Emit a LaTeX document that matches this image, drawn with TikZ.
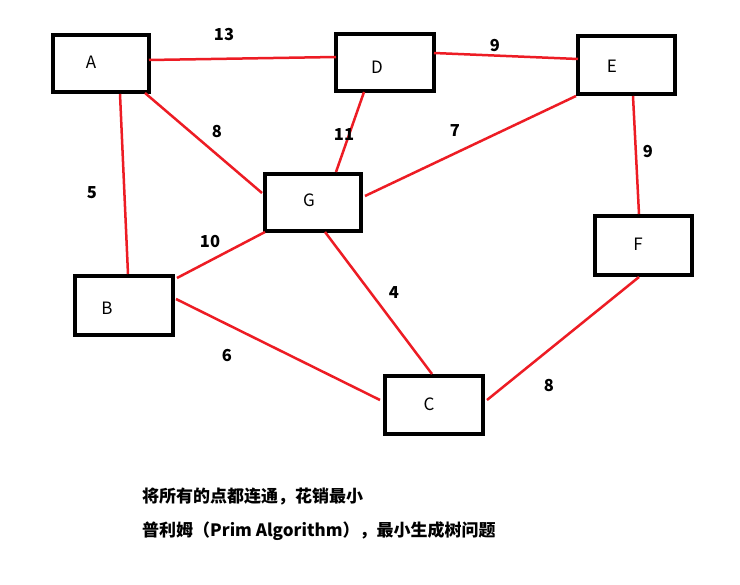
\documentclass[tikz,border=0pt]{standalone}
\usepackage{fontspec}
\setmainfont{Noto Sans CJK SC}
\usetikzlibrary{calc}
\definecolor{paintred}{RGB}{237,28,36}
\tikzset{
  vbox/.style={draw=black, line width=4pt, inner sep=0pt},
  letter/.style={font=\fontsize{17}{20}\selectfont, inner sep=0pt},
  weight/.style={font=\bfseries\fontsize{16.5}{19}\selectfont, inner sep=0pt},
  edge/.style={draw=paintred, line width=2.5pt},
  caption/.style={font=\bfseries\fontsize{17}{20}\selectfont, anchor=west, inner sep=0pt}
}
\begin{document}
\begin{tikzpicture}[x=1pt,y=-1pt]
\useasboundingbox (0,0) rectangle (740,585);
\fill[white] (0,0) rectangle (740,585);
% boxes
\node[vbox, minimum width=96pt, minimum height=57pt] (A) at (101,63.5) {};
\node[vbox, minimum width=98pt, minimum height=57pt] (D) at (385,62.5) {};
\node[vbox, minimum width=97pt, minimum height=58pt] (E) at (626.5,65) {};
\node[vbox, minimum width=96pt, minimum height=57pt] (G) at (313,202.5) {};
\node[vbox, minimum width=97pt, minimum height=59pt] (F) at (643.5,245.5) {};
\node[vbox, minimum width=98pt, minimum height=59pt] (B) at (124,305.5) {};
\node[vbox, minimum width=98pt, minimum height=58pt] (C) at (434,405) {};
% letters
\node[letter] (Al) at (91,62) {A};
\node[letter] (Dl) at (377,67) {D};
\node[letter] (El) at (612,66) {E};
\node[letter] (Gl) at (309,200) {G};
\node[letter] (Fl) at (638,244) {F};
\node[letter] (Bl) at (107,308) {B};
\node[letter] (Cl) at (429,404) {C};
% edges
\draw[edge] ($(A.north east)+(-2,27)$) -- ($(D.north west)+(2,25)$);
\draw[edge] ($(D.north east)+(-2,21)$) -- ($(E.north west)+(2,25)$);
\draw[edge] ($(A.south east)+(-6,-1)$) -- ($(G.north west)+(-1,21)$);
\draw[edge] ($(A.south west)+(69,0)$) -- ($(B.north west)+(55,0)$);
\draw[edge] ($(D.south west)+(30,-1)$) -- ($(G.north west)+(73,0)$);
\draw[edge] ($(E.south west)+(0,0)$) -- ($(G.north east)+(2,24)$);
\draw[edge] ($(E.south west)+(57,0)$) -- ($(F.north west)+(46,0)$);
\draw[edge] ($(G.south west)+(2,-1)$) -- ($(B.north east)+(2,4)$);
\draw[edge] ($(G.south west)+(62,-1)$) -- ($(C.north west)+(49,0)$);
\draw[edge] ($(B.north east)+(1,25)$) -- ($(C.north west)+(-3,26)$);
\draw[edge] ($(F.south west)+(46,0)$) -- ($(C.north east)+(2,26)$);
% weights
\node[weight] (w13) at (224,35) {13};
\node[weight] (w9a) at (495,46) {9};
\node[weight] (w8a) at (217,132) {8};
\node[weight] (w5) at (92,193) {5};
\node[weight] (w11) at (344,135) {11};
\node[weight] (w7) at (455,131) {7};
\node[weight] (w9b) at (648,152) {9};
\node[weight] (w10) at (210,242) {10};
\node[weight] (w4) at (394,293) {4};
\node[weight] (w6) at (227,356) {6};
\node[weight] (w8b) at (549,386) {8};
% captions
\node[caption] (cap1) at (142,497) {将所有的点都连通，花销最小};
\node[caption] (cap2) at (142,531) {普利姆（Prim Algorithm），最小生成树问题};
\end{tikzpicture}
\end{document}
